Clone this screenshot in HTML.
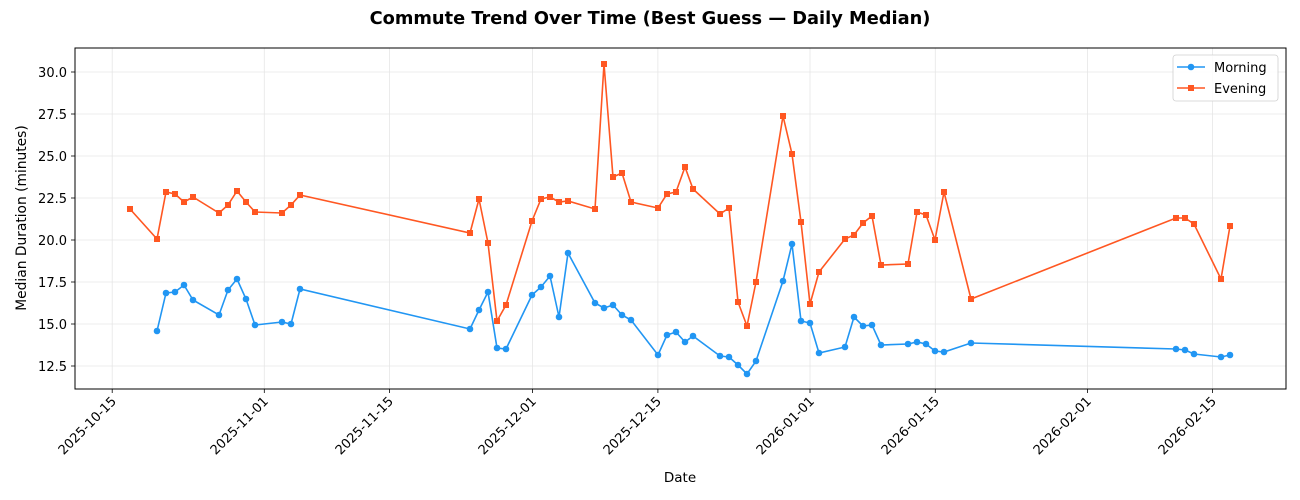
<!DOCTYPE html>
<html><head><meta charset="utf-8"><style>
html,body{margin:0;padding:0;background:#fff;}
svg{display:block;font-family:"DejaVu Sans","Liberation Sans",sans-serif;}
</style></head><body>
<svg width="1300" height="500" viewBox="0 0 1300 500" xmlns="http://www.w3.org/2000/svg">
<defs>
<marker id="mc" markerUnits="userSpaceOnUse" markerWidth="10" markerHeight="10" refX="5" refY="5"><circle cx="5" cy="5" r="3.3" fill="#2196F3"/></marker>
<marker id="ms" markerUnits="userSpaceOnUse" markerWidth="10" markerHeight="10" refX="5" refY="5"><rect x="2" y="2" width="6" height="6" fill="#FF5722"/></marker>
</defs>
<text x="650" y="24" text-anchor="middle" font-size="17.8" font-weight="bold">Commute Trend Over Time (Best Guess — Daily Median)</text>
<g stroke="#e6e6e6" stroke-width="0.8">
<line x1="112.2" y1="48" x2="112.2" y2="389"/><line x1="264.3" y1="48" x2="264.3" y2="389"/><line x1="389.5" y1="48" x2="389.5" y2="389"/><line x1="532.6" y1="48" x2="532.6" y2="389"/><line x1="657.9" y1="48" x2="657.9" y2="389"/><line x1="810" y1="48" x2="810" y2="389"/><line x1="935.3" y1="48" x2="935.3" y2="389"/><line x1="1087.4" y1="48" x2="1087.4" y2="389"/><line x1="1212.6" y1="48" x2="1212.6" y2="389"/>
<line x1="75" y1="72" x2="1286" y2="72"/><line x1="75" y1="114" x2="1286" y2="114"/><line x1="75" y1="156" x2="1286" y2="156"/><line x1="75" y1="198" x2="1286" y2="198"/><line x1="75" y1="240" x2="1286" y2="240"/><line x1="75" y1="282" x2="1286" y2="282"/><line x1="75" y1="324" x2="1286" y2="324"/><line x1="75" y1="366" x2="1286" y2="366"/>
</g>
<rect x="75" y="48" width="1211" height="341" fill="none" stroke="#000" stroke-width="1"/>
<g stroke="#000" stroke-width="0.8">
<line x1="112.2" y1="389" x2="112.2" y2="393"/><line x1="264.3" y1="389" x2="264.3" y2="393"/><line x1="389.5" y1="389" x2="389.5" y2="393"/><line x1="532.6" y1="389" x2="532.6" y2="393"/><line x1="657.9" y1="389" x2="657.9" y2="393"/><line x1="810" y1="389" x2="810" y2="393"/><line x1="935.3" y1="389" x2="935.3" y2="393"/><line x1="1087.4" y1="389" x2="1087.4" y2="393"/><line x1="1212.6" y1="389" x2="1212.6" y2="393"/>
<line x1="71" y1="72" x2="75" y2="72"/><line x1="71" y1="114" x2="75" y2="114"/><line x1="71" y1="156" x2="75" y2="156"/><line x1="71" y1="198" x2="75" y2="198"/><line x1="71" y1="240" x2="75" y2="240"/><line x1="71" y1="282" x2="75" y2="282"/><line x1="71" y1="324" x2="75" y2="324"/><line x1="71" y1="366" x2="75" y2="366"/>
</g>
<g font-size="13" text-anchor="end">
<text x="67" y="77">30.0</text><text x="67" y="119">27.5</text><text x="67" y="161">25.0</text><text x="67" y="203">22.5</text><text x="67" y="245">20.0</text><text x="67" y="287">17.5</text><text x="67" y="329">15.0</text><text x="67" y="371">12.5</text>
</g>
<g font-size="13" text-anchor="end">
<text transform="translate(117,402) rotate(-45)">2025-10-15</text>
<text transform="translate(269,402) rotate(-45)">2025-11-01</text>
<text transform="translate(394,402) rotate(-45)">2025-11-15</text>
<text transform="translate(537,402) rotate(-45)">2025-12-01</text>
<text transform="translate(662,402) rotate(-45)">2025-12-15</text>
<text transform="translate(815,402) rotate(-45)">2026-01-01</text>
<text transform="translate(940,402) rotate(-45)">2026-01-15</text>
<text transform="translate(1092,402) rotate(-45)">2026-02-01</text>
<text transform="translate(1217,402) rotate(-45)">2026-02-15</text>
</g>
<text x="680" y="482" text-anchor="middle" font-size="13.5">Date</text>
<text transform="translate(26,218) rotate(-90)" text-anchor="middle" font-size="13.8">Median Duration (minutes)</text>
<polyline fill="none" stroke="#FF5722" stroke-width="1.6" marker-start="url(#ms)" marker-mid="url(#ms)" marker-end="url(#ms)" points="130,209 157,239 166,192 175,194 184,202 193,197 219,213 228,205 237,191 246,202 255,212 282,213 291,205 300,195 470,233 479,199 488,243 497,321 506,305 532,221 541,199 550,197 559,202 568,201 595,209 604,64 613,177 622,173 631,202 658,208 667,194 676,192 685,167 693,189 720,214 729,208 738,302 747,326 756,282 783,116 792,154 801,222 810,304 819,272 845,239 854,235 863,223 872,216 881,265 908,264 917,212 926,215 935,240 944,192 971,299 1176,218 1185,218 1194,224 1221,279 1230,226"/>
<polyline fill="none" stroke="#2196F3" stroke-width="1.6" marker-start="url(#mc)" marker-mid="url(#mc)" marker-end="url(#mc)" points="157,331 166,293 175,292 184,285 193,300 219,315 228,290 237,279 246,299 255,325 282,322 291,324 300,289 470,329 479,310 488,292 497,348 506,349 532,295 541,287 550,276 559,317 568,253 595,303 604,308 613,305 622,315 631,320 658,355 667,335 676,332 685,342 693,336 720,356 729,357 738,365 747,374 756,361 783,281 792,244 801,321 810,323 819,353 845,347 854,317 863,326 872,325 881,345 908,344 917,342 926,344 935,351 944,352 971,343 1176,349 1185,350 1194,354 1221,357 1230,355"/>
<rect x="1173" y="55" width="105" height="46" rx="3" fill="#fff" fill-opacity="0.85" stroke="#d0d0d0" stroke-width="0.8"/>
<line x1="1177" y1="67" x2="1205" y2="67" stroke="#2196F3" stroke-width="1.6"/><circle cx="1191" cy="67" r="3.3" fill="#2196F3"/>
<line x1="1177" y1="88" x2="1205" y2="88" stroke="#FF5722" stroke-width="1.6"/><rect x="1188" y="85" width="6" height="6" fill="#FF5722"/>
<text x="1214" y="72" font-size="13">Morning</text>
<text x="1214" y="93" font-size="13">Evening</text>
</svg>
</body></html>
